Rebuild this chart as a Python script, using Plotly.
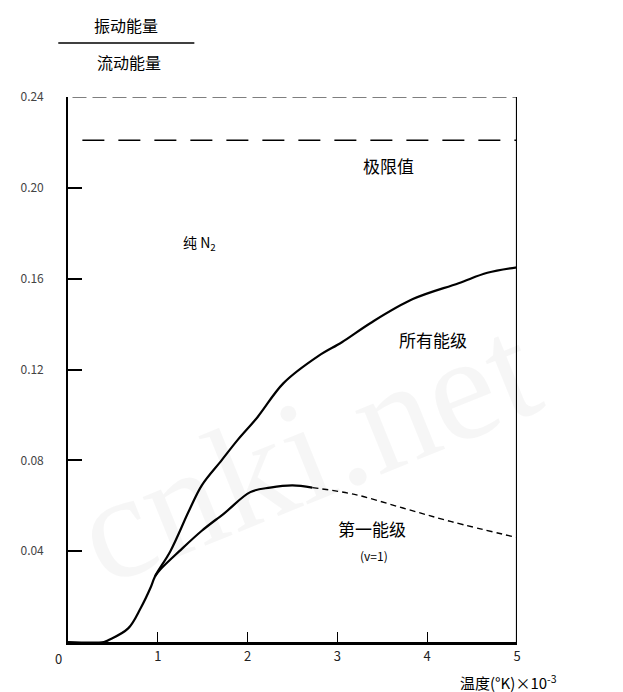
import plotly.graph_objects as go

# ---- data ----
x_all = [0.0, 0.40, 0.46, 0.67, 0.81, 0.92, 0.97, 1.14, 1.35, 1.49, 1.71, 1.89, 2.11, 2.40, 2.79, 3.05, 3.37, 3.84, 4.35, 4.67, 5.0]
y_all = [0.0, 0.0, 0.001, 0.006, 0.015, 0.024, 0.029, 0.040, 0.058, 0.069, 0.080, 0.089, 0.099, 0.114, 0.126, 0.132, 0.1405, 0.151, 0.158, 0.1626, 0.165]

x_v1_a = [0.97, 1.03, 1.24, 1.49, 1.75, 2.03, 2.25, 2.50, 2.72]
y_v1_a = [0.029, 0.032, 0.040, 0.049, 0.057, 0.066, 0.068, 0.069, 0.068]
x_v1_b = [2.72, 3.19, 3.73, 4.27, 5.0]
y_v1_b = [0.068, 0.065, 0.059, 0.053, 0.046]

limit_value = 0.221
y_top = 0.24
y_ticks = [0.04, 0.08, 0.12, 0.16, 0.20, 0.24]
y_tick_text = ["0.04", "0.08", "0.12", "0.16", "0.20", "0.24"]
x_ticks = [1, 2, 3, 4, 5]
x_tick_text = ["1", "2", "3", "4", "5"]
origin_label = "0"

FONT = "Noto Sans CJK SC"
fig = go.Figure()

fig.add_trace(go.Scatter(x=x_all, y=y_all, mode="lines", line=dict(color="black", width=2.2, shape="spline"),
                         showlegend=False, hoverinfo="skip"))
fig.add_trace(go.Scatter(x=x_v1_a, y=y_v1_a, mode="lines", line=dict(color="black", width=2.2, shape="spline"),
                         showlegend=False, hoverinfo="skip"))
fig.add_trace(go.Scatter(x=x_v1_b, y=y_v1_b, mode="lines", line=dict(color="black", width=1.4, shape="spline", dash="6px,4px"),
                         showlegend=False, hoverinfo="skip"))

# limit value dashed line and top dashed border
fig.add_trace(go.Scatter(x=[0.16, 5.0], y=[limit_value, limit_value], mode="lines",
                         line=dict(color="black", width=1.5, dash="22px,14px"), showlegend=False, hoverinfo="skip"))
fig.add_trace(go.Scatter(x=[0.05, 5.0], y=[y_top, y_top], mode="lines",
                         line=dict(color="black", width=1.2, dash="14px,6px"), showlegend=False, hoverinfo="skip"))
# right border
fig.add_shape(type="line", x0=5, x1=5, y0=0, y1=0.243, xref="x", yref="y", line=dict(color="black", width=2.2))

# page has an 8px body offset; work in page pixels below
OFF = 8
W, H = 623 - OFF, 692 - OFF
L, R, T, B = 55 - OFF, 106, 97 - OFF, 50
pw, ph = W - L - R, H - T - B
def px(x): return (x - OFF - L) / pw
def py(y): return (H - B - (y - OFF)) / ph

def pa(text, x, y, size, xanchor="center", color="black"):
    return dict(text=text, x=px(x), y=py(y), xref="paper", yref="paper", showarrow=False,
                xanchor=xanchor, yanchor="middle", font=dict(family=FONT, size=size, color=color))

ann = []
ann.append(pa("振动能量", 115, 25, 16))
ann.append(pa("流动能量", 118, 62, 16))
fig.add_shape(type="line", x0=px(45), x1=px(185), y0=py(43), y1=py(43), xref="paper", yref="paper",
              line=dict(color="black", width=1.3))
ann.append(pa("温度(°K)×10<sup>-3</sup>", 456, 682, 15, xanchor="left"))
ann.append(pa(origin_label, 45, 658, 13, color="#222"))
ann.append(dict(text="极限值", x=3.57, y=0.210, showarrow=False, font=dict(family=FONT, size=17, color="black")))
ann.append(dict(text="纯 N<sub>2</sub>", x=1.46, y=0.1757, showarrow=False, font=dict(family=FONT, size=14, color="black")))
ann.append(dict(text="所有能级", x=4.06, y=0.133, showarrow=False, font=dict(family=FONT, size=17, color="black")))
ann.append(dict(text="第一能级", x=3.38, y=0.050, showarrow=False, font=dict(family=FONT, size=17, color="black")))
ann.append(dict(text="(v=1)", x=3.41, y=0.038, showarrow=False, font=dict(family=FONT, size=12, color="black")))
ann.append(dict(text="cnki.net", x=px(300), y=py(450), xref="paper", yref="paper", showarrow=False, textangle=-22,
                xanchor="center", yanchor="middle",
                font=dict(family="Liberation Serif", size=150, color="rgba(0,0,0,0.035)")))

fig.update_layout(
    width=W, height=H, margin=dict(l=L, r=R, t=T, b=B),
    paper_bgcolor="white", plot_bgcolor="white",
    annotations=ann,
    xaxis=dict(range=[0, 5], tickvals=x_ticks, ticktext=x_tick_text, ticks="inside", ticklen=10, tickwidth=1.2,
               tickcolor="black", showgrid=False, zeroline=False, showline=True, linecolor="black", linewidth=3,
               tickfont=dict(family=FONT, size=13, color="#222")),
    yaxis=dict(range=[0, 0.24], tickvals=y_ticks, ticktext=y_tick_text, ticks="inside", ticklen=14, tickwidth=1.5,
               tickcolor="black", showgrid=False, zeroline=False, showline=True, linecolor="black", linewidth=1.6,
               ticklabelstandoff=20, tickfont=dict(family=FONT, size=12, color="#444")),
)

fig.write_html("out.html")
